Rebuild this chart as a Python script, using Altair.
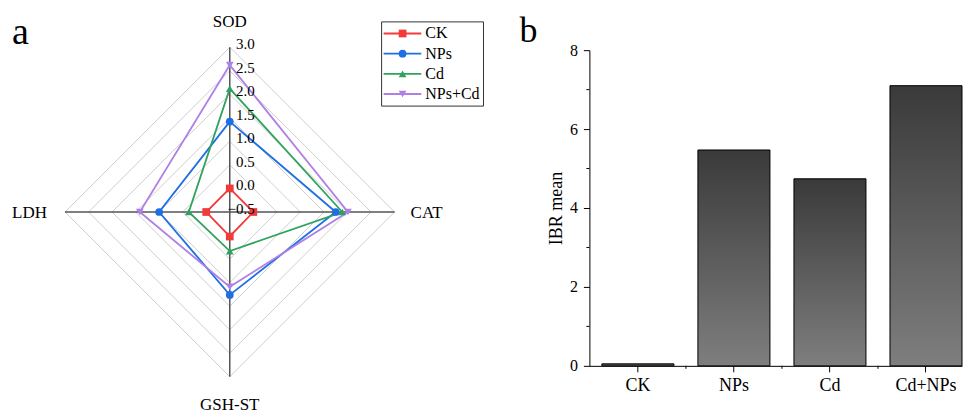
import altair as alt
import pandas as pd

# ---------------- data ----------------
radar_axes = ["SOD", "CAT", "GSH-ST", "LDH"]
series_names = ["CK", "NPs", "Cd", "NPs+Cd"]
ck_values = [0.0, 0.0, 0.02, 0.0]
nps_values = [1.42, 1.75, 1.26, 1.00]
cd_values = [2.12, 1.89, 0.33, 0.37]
nps_cd_values = [2.62, 2.01, 1.09, 1.41]
radial_ticks = [-0.5, 0.0, 0.5, 1.0, 1.5, 2.0, 2.5, 3.0]
radial_tick_labels = ["\u22120.5", "0.0", "0.5", "1.0", "1.5", "2.0", "2.5", "3.0"]

bar_categories = ["CK", "NPs", "Cd", "Cd+NPs"]
ibr_mean = [0.05, 5.47, 4.74, 7.10]
ibr_ticks = [0, 2, 4, 6, 8]
ibr_minor_ticks = [1, 3, 5, 7]

# ---------------- style / layout ----------------
SERIF = "Liberation Serif, Times New Roman, serif"
series_colors = ["#F23A3A", "#1E6FE3", "#2FA35E", "#B07FE6"]
series_shapes = ["square", "circle", "triangle-up", "triangle-down"]

TOTAL_W, PLOT_H = 955, 316   # one shared plot area (page x 8..963, y 50..366)
R0 = -0.5           # value at the centre of the radar
K = 47.14           # pixels per radial unit
CX, CY = 230, 212   # radar centre (page px)
RW = 480            # radar x range width
ORG_X, ORG_Y = 8, 50
directions = {"SOD": (0, 1), "CAT": (1, 0), "GSH-ST": (0, -1), "LDH": (-1, 0)}


def px(page_x):
    return (page_x - CX) / K


def py(page_y):
    return (CY - page_y) / K


xs = alt.Scale(domain=[px(ORG_X), px(ORG_X + RW)], range=[0, RW], nice=False, zero=False)
ys = alt.Scale(domain=[py(ORG_Y + PLOT_H), py(ORG_Y)], nice=False, zero=False)


def X(f):
    return alt.X(f"{f}:Q", scale=xs, axis=None)


def Y(f):
    return alt.Y(f"{f}:Q", scale=ys, axis=None)


color_scale = alt.Scale(domain=series_names, range=series_colors)
shape_scale = alt.Scale(domain=series_names, range=series_shapes)

# radar series (closed polygons)
rows = []
for name, vals in zip(series_names, [ck_values, nps_values, cd_values, nps_cd_values]):
    for k, ax in enumerate(radar_axes + [radar_axes[0]]):
        v = vals[k % 4]
        dx, dy = directions[ax]
        r = v - R0
        rows.append({"series": name, "axis": ax, "order": k, "x": dx * r, "y": dy * r,
                     "value": v, "marker": k < 4})
radar_df = pd.DataFrame(rows)

# grid rings
ring_rows = []
for t in radial_ticks[1:]:
    r = t - R0
    for k, ax in enumerate(radar_axes + [radar_axes[0]]):
        dx, dy = directions[ax]
        ring_rows.append({"ring": t, "order": k, "x": dx * r, "y": dy * r})
ring_df = pd.DataFrame(ring_rows)

# spokes
rmax = radial_ticks[-1] - R0
spoke_df = pd.DataFrame([{"x": 0.0, "y": 0.0, "x2": directions[a][0] * rmax,
                          "y2": directions[a][1] * rmax} for a in radar_axes])

rings = alt.Chart(ring_df).mark_line(color="#cfcfcf", strokeWidth=1).encode(
    x=X("x"), y=Y("y"), detail="ring:N", order="order:Q")
spokes = alt.Chart(spoke_df).mark_rule(color="#555555", strokeWidth=1.5).encode(
    x=X("x"), y=Y("y"), x2="x2:Q", y2="y2:Q")
lines = alt.Chart(radar_df).mark_line(strokeWidth=1.8).encode(
    x=X("x"), y=Y("y"), order="order:Q",
    color=alt.Color("series:N", scale=color_scale, legend=None))
points = alt.Chart(radar_df[radar_df["marker"]]).mark_point(filled=True, size=60, opacity=1).encode(
    x=X("x"), y=Y("y"),
    color=alt.Color("series:N", scale=color_scale, legend=None),
    shape=alt.Shape("series:N", scale=shape_scale, legend=None))

# radial tick labels along the SOD axis
rt_df = pd.DataFrame({"v": radial_ticks, "label": radial_tick_labels})
rt_df["x"] = px(255)
rt_df["y"] = rt_df["v"] - R0
radial_labels = alt.Chart(rt_df).mark_text(align="right", baseline="middle", dy=-3,
                                           fontSize=15, font=SERIF, color="black").encode(
    x=X("x"), y=Y("y"), text="label:N")

# category labels
cat_specs = [
    ("SOD", 0.0, py(27), "center", "alphabetic"),
    ("CAT", px(411), py(213), "left", "middle"),
    ("GSH-ST", 0.0, py(410), "center", "alphabetic"),
    ("LDH", px(47), py(213), "right", "middle"),
]
cat_layers = []
for name, x, y, al, bl in cat_specs:
    cat_layers.append(
        alt.Chart(pd.DataFrame({"name": [name], "x": [x], "y": [y]})).mark_text(
            align=al, baseline=bl, fontSize=17, font=SERIF, color="black").encode(
            x=X("x"), y=Y("y"), text="name:N"))

panel_a = alt.Chart(pd.DataFrame({"t": ["a"], "x": [px(12)], "y": [py(44)]})).mark_text(
    align="left", baseline="alphabetic", fontSize=38, font=SERIF, color="black").encode(
    x=X("x"), y=Y("y"), text="t:N")

# legend
leg_df = pd.DataFrame({"series": series_names})
leg_df["y"] = [py(33.3 + 20.2 * i) for i in range(len(series_names))]
leg_df["x1"] = px(384)
leg_df["x2"] = px(421.7)
leg_df["xm"] = px(403)
leg_df["xt"] = px(425.7)
leg_box = alt.Chart(pd.DataFrame({"x": [px(382)], "x2": [px(484)], "y": [py(21.7)], "y2": [py(106)]})).mark_rect(
    fill="white", fillOpacity=0, stroke="#333333", strokeWidth=1).encode(
    x=X("x"), x2="x2:Q", y=Y("y"), y2="y2:Q")
leg_lines = alt.Chart(leg_df).mark_rule(strokeWidth=1.8).encode(
    x=X("x1"), x2="x2:Q", y=Y("y"),
    color=alt.Color("series:N", scale=color_scale, legend=None))
leg_points = alt.Chart(leg_df).mark_point(filled=True, size=60, opacity=1).encode(
    x=X("xm"), y=Y("y"),
    color=alt.Color("series:N", scale=color_scale, legend=None),
    shape=alt.Shape("series:N", scale=shape_scale, legend=None))
leg_text = alt.Chart(leg_df).mark_text(align="left", baseline="middle", fontSize=16,
                                       font=SERIF, color="black").encode(
    x=X("xt"), y=Y("y"), text="series:N")

anchor = alt.Chart(pd.DataFrame({"x": [px(100)], "x2": [px(101)], "y": [py(8.5)]})).mark_rule(
    strokeWidth=1, strokeOpacity=0).encode(x=X("x"), x2="x2:Q", y=Y("y"))

radar = alt.layer(rings, spokes, lines, points, radial_labels, *cat_layers, panel_a,
                  leg_box, leg_lines, leg_points, leg_text, anchor)

# ---------------- bar chart (right part of the same plot area) ----------------
B0, B1 = 590 - ORG_X, TOTAL_W          # bar x range in plot px
P_IN = 0.25
LEFT_OUTER = 12.5
STEP = ((B1 - B0) - LEFT_OUTER) / (len(bar_categories) - P_IN)
P_OUT = LEFT_OUTER / 2 / STEP
bxs = alt.Scale(domain=bar_categories, range=[B0, B1], paddingInner=P_IN, paddingOuter=P_OUT, align=1)
bys = alt.Scale(domain=[0, 8], nice=False, zero=True)
x_axis = alt.Axis(title=None, labelAngle=0, labelFontSize=18, labelPadding=5, tickSize=6,
                  domainColor="black", tickColor="black", labelColor="black",
                  labelFont=SERIF, domainWidth=1, orient="bottom")
y_axis = alt.Axis(title="IBR mean", values=ibr_ticks, grid=False, tickSize=6, labelPadding=6,
                  labelFontSize=16, titleFontSize=18, titleFontWeight="normal",
                  titlePadding=4, domainColor="black", tickColor="black", orient="left",
                  offset=-B0, labelColor="black", titleColor="black", labelFont=SERIF, titleFont=SERIF)
bar_df = pd.DataFrame({"cat": bar_categories, "ibr": ibr_mean})
gradient = alt.Gradient(gradient="linear",
                        stops=[alt.GradientStop(color="#3a3a3a", offset=0),
                               alt.GradientStop(color="#7e7e7e", offset=1)],
                        x1=1, x2=1, y1=0, y2=1)
bars = alt.Chart(bar_df).mark_bar(color=gradient, stroke="black", strokeWidth=1).encode(
    x=alt.X("cat:N", sort=bar_categories, scale=bxs, axis=x_axis),
    y=alt.Y("ibr:Q", scale=bys, axis=y_axis))

xminor = alt.Chart(pd.DataFrame({"cat": bar_categories[1:]})).mark_rule(
    color="black", strokeWidth=1, xOffset=-STEP * P_IN / 2).encode(
    x=alt.X("cat:N", sort=bar_categories, bandPosition=0, scale=bxs, axis=x_axis),
    y=alt.value(PLOT_H), y2=alt.value(PLOT_H + 3))
yminor = alt.Chart(pd.DataFrame({"ibr": ibr_minor_ticks})).mark_rule(color="black", strokeWidth=1).encode(
    y=alt.Y("ibr:Q", scale=bys, axis=y_axis), x=alt.value(B0), x2=alt.value(B0 - 3))
panel_b = alt.Chart(pd.DataFrame({"t": ["b"]})).mark_text(
    align="left", baseline="alphabetic", fontSize=36, font=SERIF, color="black").encode(
    x=alt.value(520 - ORG_X), y=alt.value(41.5 - ORG_Y), text="t:N")

bar = alt.layer(bars, xminor, yminor, panel_b)

chart = alt.layer(radar, bar).resolve_scale(x="independent", y="independent").properties(
    width=TOTAL_W, height=PLOT_H,
    padding={"left": 0, "top": 0, "right": 0, "bottom": 0}, background="white"
).configure(font=SERIF).configure_view(strokeWidth=0, stroke="white")

chart.save("out.html", embed_options={"renderer": "svg", "actions": False})
